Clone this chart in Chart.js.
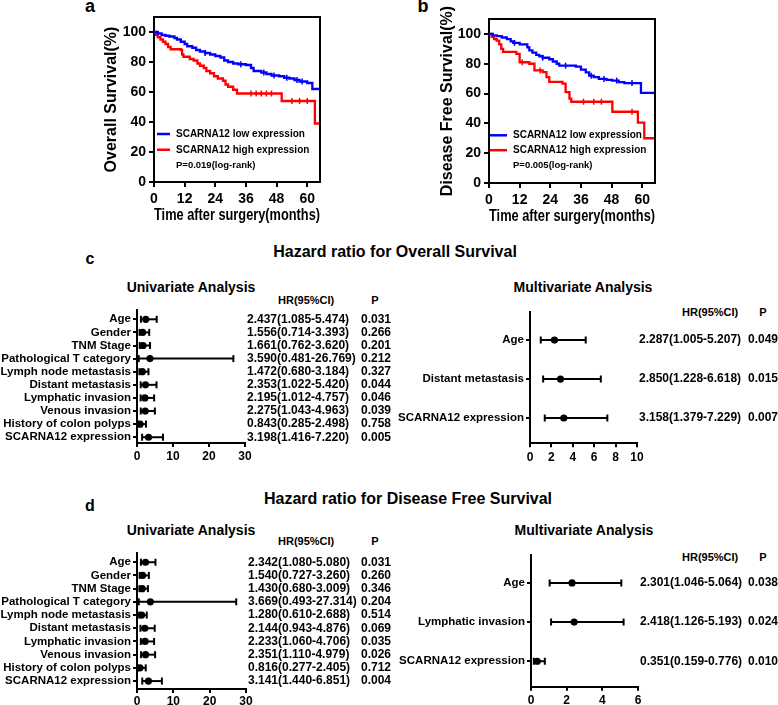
<!DOCTYPE html>
<html><head><meta charset="utf-8">
<script src="https://cdn.jsdelivr.net/npm/chart.js@4.4.0/dist/chart.umd.min.js"></script>
<style>
html,body{margin:0;padding:0;background:#fff;}
body{width:778px;height:705px;position:relative;overflow:hidden;font-family:"Liberation Sans",Arial,sans-serif;font-weight:bold;color:#000;}
canvas{position:absolute;}
.t{position:absolute;white-space:nowrap;line-height:1;transform:translate(-50%,-50%);}
.l{position:absolute;white-space:nowrap;line-height:1;transform:translate(0,-50%);}
</style></head><body>
<div class="t" style="left:90px;top:6px;font-size:18px">a</div>
<div class="t" style="left:423px;top:6px;font-size:18px">b</div>
<div class="t" style="left:90px;top:259px;font-size:16px">c</div>
<div class="t" style="left:90px;top:506px;font-size:16px">d</div>
<div class="t" style="left:395px;top:252px;font-size:16px">Hazard ratio for Overall Survival</div>
<div class="t" style="left:408px;top:499px;font-size:16px">Hazard ratio for Disease Free Survival</div>
<div class="t" style="left:191px;top:287px;font-size:14px">Univariate Analysis</div>
<div class="t" style="left:583px;top:287px;font-size:14px">Multivariate Analysis</div>
<div class="t" style="left:191px;top:530px;font-size:14px">Univariate Analysis</div>
<div class="t" style="left:584px;top:530px;font-size:14px">Multivariate Analysis</div>
<div class="l" style="left:278px;top:300px;font-size:11px">HR(95%CI)</div>
<div class="t" style="left:375px;top:300px;font-size:11px">P</div>
<div class="l" style="left:682px;top:312px;font-size:11px">HR(95%CI)</div>
<div class="t" style="left:763px;top:312px;font-size:11px">P</div>
<div class="l" style="left:278px;top:541px;font-size:11px">HR(95%CI)</div>
<div class="t" style="left:375px;top:541px;font-size:11px">P</div>
<div class="l" style="left:682px;top:557px;font-size:11px">HR(95%CI)</div>
<div class="t" style="left:763px;top:557px;font-size:11px">P</div>

<canvas id="ka" width="340" height="232" style="left:0;top:0"></canvas>
<canvas id="kb" width="290" height="232" style="left:390px;top:0"></canvas>
<canvas id="cu" width="400" height="170" style="left:0;top:296px"></canvas>
<canvas id="cm" width="388" height="170" style="left:390px;top:296px"></canvas>
<canvas id="du" width="400" height="166" style="left:0;top:539px"></canvas>
<canvas id="dm" width="388" height="166" style="left:390px;top:539px"></canvas>
<script>
// ---------------- DATA ----------------
const monthTicks = [0, 12, 24, 36, 48, 60];
const survTicks = [0, 20, 40, 60, 80, 100];

// Overall survival (panel a)
const osLowT  = [0,1.5,3,4.5,6,8,9,10.5,12,13,15,16.5,18,20,22,24,26,27.5,29,31,33,36,38,39,42,44,46,49,51,53,55,57,60,62,65];
const osLowS  = [100,99,98,97.5,97,96,95,93.5,92,90.5,89.5,88,87,86,85,84,83,81,80,79,78.5,78,76,74,73,72,71,70.5,69.5,69,68,67,66,62,62];
const osHighT = [0,0.8,1.5,2.5,3.5,4.5,5.5,6.5,10.5,11,11.5,14,15.5,17,18,19.5,20.5,22,23.5,25,27,28,29,31,32.5,50,63,65];
const osHighS = [100,98,96.5,95,93.5,92,90,88.5,88,85,83.5,82,81,79,77.5,76,74,72.5,70.5,69,67.5,65,63.5,61.5,59,54,39,39];
const osLowCens  = [20,34,43,47,52,56,58];
const osHighCens = [38,40,42,44,46,54,57,60];

// Disease free survival (panel b)
const dfsLowT  = [0,1.5,3,5,7,8.5,9.5,12,15,15.8,17,18.5,19.7,21,23.6,25,26.5,27.5,34,36,37.9,39.2,41,43,46,48.2,50.8,53,59.5,65];
const dfsLowS  = [100,99,98.5,97.6,96.5,95,94,93,91,89,87.5,86,85,84,83,81.5,80,78.7,78,76,74.2,72,71,69.8,69.2,68.7,67.6,67,60.5,60.5];
const dfsHighT = [0,1,2,3,4,4.8,5.5,10.7,12,15.8,17.8,21,22.5,23.6,28.8,30,31.5,32.2,48.3,58.3,60.8,65];
const dfsHighS = [100,98,96.5,95.5,93,90,88,86.6,81,80,75.5,74.4,71,67.8,66.7,61,56.6,54.5,47.8,40.5,30,30];
const dfsLowCens  = [10,21,30,40,45,50,56];
const dfsHighCens = [13,20,37,41,44,56];

// Forest plots
const uniLabels = ['Age','Gender','TNM Stage','Pathological T category','Lymph node metastasis','Distant metastasis','Lymphatic invasion','Venous invasion','History of colon polyps','SCARNA12 expression'];

const osUniHR = [2.437,1.556,1.661,3.590,1.472,2.353,2.195,2.275,0.843,3.198];
const osUniLo = [1.085,0.714,0.762,0.481,0.680,1.022,1.012,1.043,0.285,1.416];
const osUniHi = [5.474,3.393,3.620,26.769,3.184,5.420,4.757,4.963,2.498,7.220];
const osUniP  = ['0.031','0.266','0.201','0.212','0.327','0.044','0.046','0.039','0.758','0.005'];

const osMultiLabels = ['Age','Distant metastasis','SCARNA12 expression'];
const osMultiHR = [2.287,2.850,3.158];
const osMultiLo = [1.005,1.228,1.379];
const osMultiHi = [5.207,6.618,7.229];
const osMultiP  = ['0.049','0.015','0.007'];

const dfsUniHR = [2.342,1.540,1.430,3.669,1.280,2.144,2.233,2.351,0.816,3.141];
const dfsUniLo = [1.080,0.727,0.680,0.493,0.610,0.943,1.060,1.110,0.277,1.440];
const dfsUniHi = [5.080,3.260,3.009,27.314,2.688,4.876,4.706,4.979,2.405,6.851];
const dfsUniP  = ['0.031','0.260','0.346','0.204','0.514','0.069','0.035','0.026','0.712','0.004'];

const dfsMultiLabels = ['Age','Lymphatic invasion','SCARNA12 expression'];
const dfsMultiHR = [2.301,2.418,0.351];
const dfsMultiLo = [1.046,1.126,0.159];
const dfsMultiHi = [5.064,5.193,0.776];
const dfsMultiP  = ['0.038','0.024','0.010'];

// ---------------- RENDERING ----------------
const FONT = '"Liberation Sans", Arial, sans-serif';
Chart.defaults.font.family = FONT;
Chart.defaults.color = '#000';
const BLUE = '#0000ff', RED = '#ff0000';

function stepAt(t, s, x) {
  let v = s[0];
  for (let i = 0; i < t.length; i++) { if (t[i] <= x) v = s[i]; }
  return v;
}

const framePlugin = {
  id: 'frame',
  afterDraw(chart) {
    const {ctx, chartArea: {left, right, top, bottom}} = chart;
    ctx.save();
    ctx.strokeStyle = '#000'; ctx.lineWidth = 2;
    ctx.beginPath(); ctx.moveTo(left - 1, top); ctx.lineTo(right, top); ctx.lineTo(right, bottom + 1); ctx.stroke();
    ctx.restore();
  }
};

const kmLegend = {
  id: 'kmLegend',
  afterDraw(chart, args, o) {
    const {ctx, chartArea, scales} = chart;
    ctx.save();
    const x0 = chartArea.left + o.dx;
    ctx.textBaseline = 'middle';
    ctx.textAlign = 'left';
    [[BLUE, o.low, o.yLow], [RED, o.high, o.yHigh]].forEach(([c, txt, yv]) => {
      const y = scales.y.getPixelForValue(yv);
      ctx.strokeStyle = c; ctx.lineWidth = 2.5;
      ctx.beginPath(); ctx.moveTo(x0, y); ctx.lineTo(x0 + o.len, y); ctx.stroke();
      ctx.fillStyle = '#000'; ctx.font = 'bold 10px ' + FONT;
      ctx.fillText(txt, x0 + o.tx, y);
    });
    ctx.font = 'bold 9.5px ' + FONT;
    ctx.fillText(o.p, x0 + o.tx, scales.y.getPixelForValue(o.yP));
    ctx.restore();
  }
};

function kmChart(id, c) {
  const line = (t, s, color) => ({type: 'line', data: t.map((x, i) => ({x, y: s[i]})), borderColor: color, borderWidth: 2.3, stepped: true, pointRadius: 0, fill: false});
  const cens = (cs, t, s, color) => ({type: 'scatter', data: cs.map(x => ({x, y: stepAt(t, s, x)})), pointStyle: 'line', rotation: 90, pointRadius: 3, borderColor: color, backgroundColor: color, borderWidth: 1.5});
  new Chart(document.getElementById(id), {
    type: 'line',
    data: {datasets: [
      line(c.lowT, c.lowS, BLUE), line(c.highT, c.highS, RED),
      cens(c.lowC, c.lowT, c.lowS, BLUE), cens(c.highC, c.highT, c.highS, RED)
    ]},
    options: {
      responsive: false, animation: false, events: [],
      layout: {padding: c.pad},
      plugins: {legend: {display: false}, tooltip: {enabled: false}, kmLegend: c.legend},
      scales: {
        x: {type: 'linear', min: 0, max: 65,
          afterBuildTicks: a => { a.ticks = monthTicks.map(v => ({value: v})); },
          ticks: {font: {size: 14, weight: 'bold'}, color: '#000', padding: 4, maxRotation: 0},
          grid: {drawOnChartArea: false, color: '#000', lineWidth: 2, tickLength: 5},
          border: {color: '#000', width: 2},
          title: {display: true, text: 'Time after surgery(months)', color: '#000', font: {size: 16, weight: 'bold'}, padding: {top: 0, bottom: c.xtPad}},
          afterFit: s => { s.height = c.xh; }},
        y: {type: 'linear', min: 0, max: 110,
          afterBuildTicks: a => { a.ticks = survTicks.map(v => ({value: v})); },
          ticks: {font: {size: 14, weight: 'bold'}, color: '#000', padding: 3},
          grid: {drawOnChartArea: false, color: '#000', lineWidth: 2, tickLength: 5},
          border: {color: '#000', width: 2},
          title: {display: true, text: c.ytitle, color: '#000', font: {size: 16, weight: 'bold'}, padding: {top: 4, bottom: 0}},
          afterFit: s => { s.width = c.yw; }}
      }
    },
    plugins: [kmLegend, framePlugin]
  });
}

const forestText = {
  id: 'forestText',
  afterDraw(chart, args, o) {
    const {ctx, chartArea, scales} = chart;
    ctx.save();
    ctx.font = 'bold 12px ' + FONT;
    ctx.fillStyle = '#000';
    ctx.textBaseline = 'middle';
    ctx.textAlign = 'left';
    o.hr.forEach((h, i) => {
      const y = scales.y.getPixelForValue(i + 1);
      const s = h.toFixed(3) + '(' + o.lo[i].toFixed(3) + '-' + o.hi[i].toFixed(3) + ')';
      ctx.fillText(s, chartArea.right + 2, y);
      ctx.fillText(o.p[i], o.pX, y);
    });
    ctx.restore();
  }
};

function forestChart(id, c) {
  const ds = c.lo.map((l, i) => ({
    data: [{x: l, y: i + 1}, {x: c.hi[i], y: i + 1}], showLine: true,
    borderColor: '#000', backgroundColor: '#000', borderWidth: 2,
    pointStyle: 'line', rotation: 90, pointRadius: 3.5, pointBorderColor: '#000', pointBorderWidth: 2
  }));
  ds.push({data: c.hr.map((h, i) => ({x: h, y: i + 1})), pointStyle: 'circle', pointRadius: 3.6,
    backgroundColor: '#000', borderColor: '#000', borderWidth: 0});
  new Chart(document.getElementById(id), {
    type: 'scatter',
    data: {datasets: ds},
    options: {
      responsive: false, animation: false, events: [],
      layout: {padding: c.pad},
      plugins: {legend: {display: false}, tooltip: {enabled: false},
        forestText: {hr: c.hr, lo: c.lo, hi: c.hi, p: c.p, pX: c.pX}},
      scales: {
        x: {type: 'linear', min: 0, max: c.xmax,
          afterBuildTicks: a => { a.ticks = c.xticks.map(v => ({value: v})); },
          ticks: {font: {size: 12, weight: 'bold'}, color: '#000', padding: c.xtp, maxRotation: 0},
          grid: {drawOnChartArea: false, color: '#000', lineWidth: 2, tickLength: 4},
          border: {color: '#000', width: 2},
          afterFit: s => { s.height = c.xh; }},
        y: {type: 'linear', reverse: true, min: c.ymin, max: c.ymax,
          afterBuildTicks: a => { a.ticks = c.labels.map((_, i) => ({value: i + 1})); },
          ticks: {autoSkip: false, callback: v => c.labels[v - 1], font: {size: 11.5, weight: 'bold'}, color: '#000', padding: 2},
          grid: {drawOnChartArea: false, color: '#000', lineWidth: 2, tickLength: 4},
          border: {color: '#000', width: 2},
          afterFit: s => { s.width = c.yw; }}
      }
    },
    plugins: [forestText]
  });
}

kmChart('ka', {lowT: osLowT, lowS: osLowS, highT: osHighT, highS: osHighS, lowC: osLowCens, highC: osHighCens,
  ytitle: 'Overall Survival(%)', pad: {left: 98, top: 17, right: 20, bottom: 0}, yw: 56, xh: 50, xtPad: 7,
  legend: {dx: 3, len: 13, tx: 19, low: 'SCARNA12 low expression', high: 'SCARNA12 high expression', p: 'P=0.019(log-rank)', yLow: 32, yHigh: 21.5, yP: 11}});
kmChart('kb', {lowT: dfsLowT, lowS: dfsLowS, highT: dfsHighT, highS: dfsHighS, lowC: dfsLowCens, highC: dfsHighCens,
  ytitle: 'Disease Free Survival(%)', pad: {left: 44, top: 19, right: 25, bottom: 0}, yw: 55, xh: 49, xtPad: 6,
  legend: {dx: 1, len: 17, tx: 23, low: 'SCARNA12 low expression', high: 'SCARNA12 high expression', p: 'P=0.005(log-rank)', yLow: 32, yHigh: 22, yP: 12}});

forestChart('cu', {labels: uniLabels, hr: osUniHR, lo: osUniLo, hi: osUniHi, p: osUniP, pX: 361,
  xmax: 30, xticks: [0, 10, 20, 30], ymin: 0.29, ymax: 10.44,
  pad: {left: 0, top: 14, right: 155, bottom: 0}, yw: 137, xh: 23, xtp: 2});
forestChart('cm', {labels: osMultiLabels, hr: osMultiHR, lo: osMultiLo, hi: osMultiHi, p: osMultiP, pX: 358,
  xmax: 10, xticks: [0, 2, 4, 6, 8, 10], ymin: 0.27, ymax: 3.65,
  pad: {left: 0, top: 15.7, right: 141, bottom: 0}, yw: 140, xh: 22.7, xtp: 3});
forestChart('du', {labels: uniLabels, hr: dfsUniHR, lo: dfsUniLo, hi: dfsUniHi, p: dfsUniP, pX: 361,
  xmax: 30, xticks: [0, 10, 20, 30], ymin: 0.3, ymax: 10.6,
  pad: {left: 0, top: 14, right: 154, bottom: 0}, yw: 137, xh: 16, xtp: 1});
forestChart('dm', {labels: dfsMultiLabels, hr: dfsMultiHR, lo: dfsMultiLo, hi: dfsMultiHi, p: dfsMultiP, pX: 358,
  xmax: 6, xticks: [0, 2, 4, 6], ymin: 0.28, ymax: 3.65,
  pad: {left: 0, top: 15.7, right: 140, bottom: 0}, yw: 141, xh: 18.3, xtp: 3});
</script>
</body></html>
